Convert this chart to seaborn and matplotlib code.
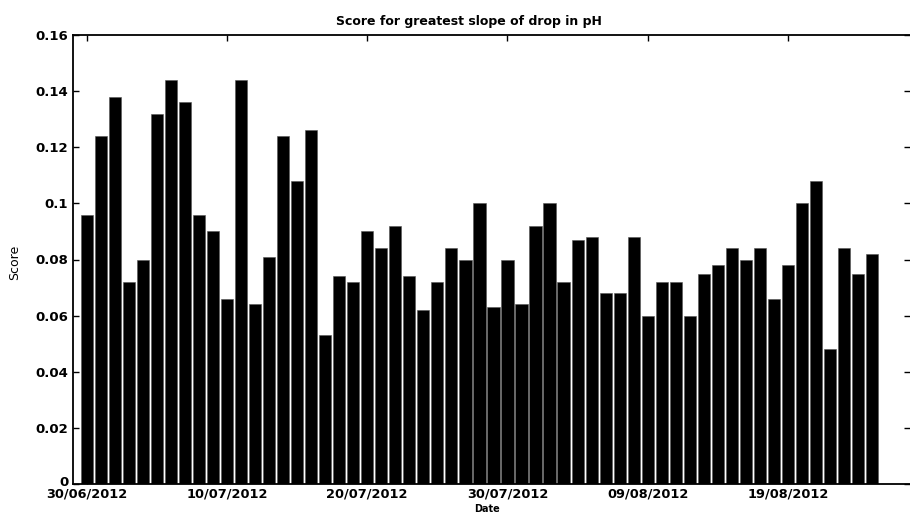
import matplotlib
matplotlib.use("Agg")
import matplotlib.pyplot as plt
import matplotlib.transforms as mtransforms
import seaborn as sns
import pandas as pd
import numpy as np

# Daily scores from 30/06/2012 to 25/08/2012
start_date = "2012-06-30"
scores = [0.096, 0.124, 0.138, 0.072, 0.080, 0.132, 0.144, 0.136, 0.096, 0.090,
          0.066, 0.144, 0.064, 0.081, 0.124, 0.108, 0.126, 0.053, 0.074, 0.072,
          0.090, 0.084, 0.092, 0.074, 0.062, 0.072, 0.084, 0.080, 0.100, 0.063,
          0.080, 0.064, 0.092, 0.100, 0.072, 0.087, 0.088, 0.068, 0.068, 0.088,
          0.060, 0.072, 0.072, 0.060, 0.075, 0.078, 0.084, 0.080, 0.084, 0.066,
          0.078, 0.100, 0.108, 0.048, 0.084, 0.075, 0.082]
tick_labels = ["30/06/2012", "10/07/2012", "20/07/2012", "30/07/2012",
               "09/08/2012", "19/08/2012"]
ytick_values = [0, 0.02, 0.04, 0.06, 0.08, 0.1, 0.12, 0.14, 0.16]
ytick_labels = ["0", "0.02", "0.04", "0.06", "0.08", "0.1", "0.12", "0.14", "0.16"]

dates = pd.date_range(start_date, periods=len(scores), freq="D")
df = pd.DataFrame({"Date": dates.strftime("%d/%m/%Y"), "Score": scores})

sns.set_style("ticks")
plt.rcParams["font.family"] = ["DejaVu Sans"]

fig = plt.figure(figsize=(9.10, 5.14), dpi=100)
ax = fig.add_axes([73 / 910, 1 - 484 / 514, 1 - 73 / 910, (484 - 35) / 514])

sns.barplot(data=df, x="Date", y="Score", color="black", width=0.87,
            edgecolor="#555555", linewidth=0.4, saturation=1, ax=ax)

ax.set_xlim(-0.98, 58.7)
ax.set_ylim(0, 0.16)

tick_pos = [list(df["Date"]).index(t) for t in tick_labels]
ax.set_xticks(tick_pos)
ax.set_xticklabels(tick_labels, fontsize=9.3, fontweight="bold")
ax.set_yticks(ytick_values)
ax.set_yticklabels(ytick_labels, fontsize=9.5, fontweight="bold")

ax.tick_params(axis="both", direction="in", length=4, width=1.0, color="black",
               top=True, right=True, labelcolor="black")
ax.tick_params(axis="x", pad=2.5)
ax.tick_params(axis="y", pad=3.5)

# nudge the "0" label up a little, as in the reference
zero_lbl = ax.get_yticklabels()[0]
zero_lbl.set_transform(zero_lbl.get_transform() +
                       mtransforms.ScaledTranslation(0, 3 / 100, fig.dpi_scale_trans))

for side in ["left", "top", "bottom"]:
    ax.spines[side].set_visible(True)
    ax.spines[side].set_color("black")
    ax.spines[side].set_linewidth(1.3)
ax.spines["right"].set_visible(False)

ax.set_xlabel("")
ax.set_ylabel("")

fig.text(469 / 910, 1 - 21 / 514, "Score for greatest slope of drop in pH",
         ha="center", va="center", fontsize=9, fontweight="bold", color="black")
fig.text(15 / 910, 1 - 262 / 514, "Score", rotation=90, ha="center", va="center",
         fontsize=9, color="black")
fig.text(487 / 910, 0.2 / 514, "Date", ha="center", va="bottom",
         fontsize=7, fontweight="bold", color="black")

fig.savefig("out.png", dpi=100, facecolor="white")
